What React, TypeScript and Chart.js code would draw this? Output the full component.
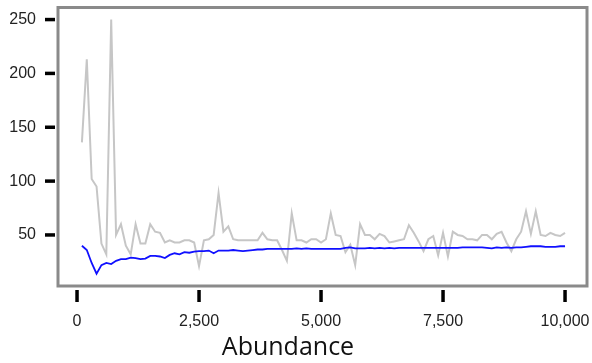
import React, { useEffect, useRef } from "react";
import { Chart, registerables } from "chart.js";

Chart.register(...registerables);

// Sampled abundance levels (x axis)
const abundance: number[] = [
  100, 200, 300, 400, 500, 600, 700, 800, 900, 1000,
  1100, 1200, 1300, 1400, 1500, 1600, 1700, 1800, 1900, 2000,
  2100, 2200, 2300, 2400, 2500, 2600, 2700, 2800, 2900, 3000,
  3100, 3200, 3300, 3400, 3500, 3600, 3700, 3800, 3900, 4000,
  4100, 4200, 4300, 4400, 4500, 4600, 4700, 4800, 4900, 5000,
  5100, 5200, 5300, 5400, 5500, 5600, 5700, 5800, 5900, 6000,
  6100, 6200, 6300, 6400, 6500, 6600, 6700, 6800, 6900, 7000,
  7100, 7200, 7300, 7400, 7500, 7600, 7700, 7800, 7900, 8000,
  8100, 8200, 8300, 8400, 8500, 8600, 8700, 8800, 8900, 9000,
  9100, 9200, 9300, 9400, 9500, 9600, 9700, 9800, 9900, 10000,
];

// Per-sample values (grey trace)
const sampleValues: number[] = [
  136, 213, 102, 95, 42, 32, 250, 50, 60, 40,
  32, 60, 42, 42, 60, 53, 52, 43, 45, 43,
  43, 45, 45, 43, 21, 45, 46, 50, 89, 53,
  58, 46, 45, 45, 45, 45, 45, 52, 46, 45,
  45, 36, 26, 70, 45, 45, 43, 46, 46, 43,
  46, 70, 50, 49, 34, 41, 22, 60, 50, 50,
  46, 51, 49, 43, 44, 45, 46, 59, 52, 44,
  35, 46, 49, 31, 52, 30, 53, 50, 49, 46,
  46, 45, 50, 50, 46, 51, 53, 43, 35, 46,
  53, 72, 51, 72, 50, 49, 52, 50, 49, 52,
];

// Running mean (blue trace)
const meanValues: number[] = [
  40, 36, 24, 14, 22, 24, 23, 26, 27.5, 27.5,
  29, 28.5, 27.5, 28, 30.5, 30.5, 30, 28.5, 31.5, 33,
  32, 34, 33.5, 34.5, 35, 35, 35.5, 33, 35.5, 35.5,
  35.5, 36, 35.5, 35, 35.5, 36, 36.5, 36.5, 37, 37,
  37, 37, 37, 37, 37.5, 37, 37.5, 37, 37, 37,
  37, 37, 37, 37, 38, 38.5, 37.5, 37.5, 37.5, 38,
  37.5, 38, 37.5, 38, 37.5, 38, 38, 38, 38, 38,
  38, 38, 38, 38, 38, 38, 38, 38, 38.5, 38.5,
  38.5, 38.5, 38.5, 38, 37.5, 38.5, 38, 38.5, 38, 38.5,
  38.5, 39, 39.5, 39.5, 39.5, 39, 39, 39, 39.5, 39.5,
];

const xTickValues: number[] = [0, 2500, 5000, 7500, 10000];
const yTickValues: number[] = [50, 100, 150, 200, 250];
const xTitle = "Abundance";

const framePlugin = {
  id: "frameAndTicks",
  afterDraw(chart: any) {
    const { ctx, chartArea, scales } = chart;
    const xs = scales.x;
    const ys = scales.y;
    ctx.save();
    // plot frame
    ctx.strokeStyle = "#8a8a8a";
    ctx.lineWidth = 3;
    ctx.strokeRect(
      chartArea.left,
      chartArea.top,
      chartArea.right - chartArea.left,
      chartArea.bottom - chartArea.top
    );
    // outside tick marks
    ctx.strokeStyle = "#000";
    ctx.lineWidth = 3.5;
    ctx.lineCap = "butt";
    ys.ticks.forEach((t: any) => {
      const py = ys.getPixelForValue(t.value);
      ctx.beginPath();
      ctx.moveTo(chartArea.left - 13, py);
      ctx.lineTo(chartArea.left - 3, py);
      ctx.stroke();
    });
    xs.ticks.forEach((t: any) => {
      const px = xs.getPixelForValue(t.value);
      ctx.beginPath();
      ctx.moveTo(px, chartArea.bottom + 4);
      ctx.lineTo(px, chartArea.bottom + 16);
      ctx.stroke();
    });
    // axis title
    ctx.fillStyle = "#111";
    ctx.font = "25px 'Open Sans', 'Noto Sans', sans-serif";
    ctx.textAlign = "center";
    ctx.textBaseline = "alphabetic";
    ctx.fillText(xTitle, 288, 355);
    ctx.restore();
  },
};

// keep the plot area fixed: no extra room for overhanging tick labels
const noOverhang = (scale: any) => {
  scale.paddingTop = 0;
  scale.paddingBottom = 0;
  scale.paddingLeft = 0;
  scale.paddingRight = 0;
};

export default function App() {
  const canvasRef = useRef<HTMLCanvasElement | null>(null);

  useEffect(() => {
    if (!canvasRef.current) return;
    const chart = new Chart(canvasRef.current, {
      type: "line",
      data: {
        datasets: [
          {
            label: "mean",
            data: abundance.map((x, i) => ({ x, y: meanValues[i] })),
            borderColor: "#1010ff",
            borderWidth: 1.8,
            pointRadius: 0,
            tension: 0,
            order: 0,
          },
          {
            label: "sample",
            data: abundance.map((x, i) => ({ x, y: sampleValues[i] })),
            borderColor: "#c6c6c6",
            borderWidth: 2,
            pointRadius: 0,
            tension: 0,
            order: 1,
          },
        ],
      },
      options: {
        responsive: false,
        animation: false,
        layout: { padding: { top: 7.5, right: 5, left: 0, bottom: 0 } },
        plugins: {
          legend: { display: false },
          tooltip: { enabled: false },
        },
        scales: {
          x: {
            type: "linear",
            min: -390,
            max: 10450,
            grid: { display: false, drawTicks: false },
            border: { display: false },
            afterBuildTicks: (scale: any) => {
              scale.ticks = xTickValues.map((v) => ({ value: v }));
            },
            afterFit: (scale: any) => {
              scale.height = 77;
              noOverhang(scale);
            },
            ticks: {
              padding: 26,
              maxRotation: 0,
              autoSkip: false,
              color: "#222",
              font: { family: "'Liberation Sans', Arial, sans-serif", size: 16 },
              callback: (v: any) => Number(v).toLocaleString("en-US"),
            },
          },
          y: {
            type: "linear",
            min: 2.6,
            max: 261.2,
            grid: { display: false, drawTicks: false },
            border: { display: false },
            afterBuildTicks: (scale: any) => {
              scale.ticks = yTickValues.map((v) => ({ value: v }));
            },
            afterFit: (scale: any) => {
              scale.width = 58;
              noOverhang(scale);
            },
            ticks: {
              padding: 22,
              autoSkip: false,
              color: "#222",
              font: { family: "'Liberation Sans', Arial, sans-serif", size: 16 },
              callback: (v: any) => String(v),
            },
          },
        },
      },
      plugins: [framePlugin],
    });
    return () => chart.destroy();
  }, []);

  return (
    <div style={{ position: "fixed", left: 0, top: 0, width: 592, height: 363, background: "#fff" }}>
      <canvas ref={canvasRef} width={592} height={363} style={{ display: "block" }} />
    </div>
  );
}
